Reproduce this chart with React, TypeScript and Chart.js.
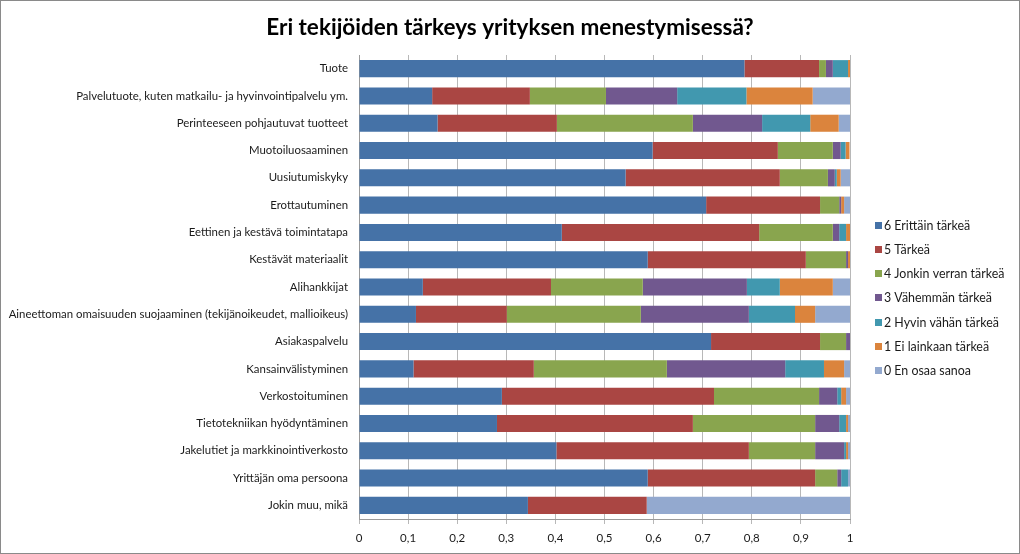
import React, { useEffect, useRef } from "react";
import { Chart, registerables } from "chart.js";

Chart.register(...registerables);

const TITLE = "Eri tekijöiden tärkeys yrityksen menestymisessä?";

const categories = [
  "Tuote",
  "Palvelutuote, kuten matkailu- ja hyvinvointipalvelu ym.",
  "Perinteeseen pohjautuvat tuotteet",
  "Muotoiluosaaminen",
  "Uusiutumiskyky",
  "Erottautuminen",
  "Eettinen ja kestävä toimintatapa",
  "Kestävät materiaalit",
  "Alihankkijat",
  "Aineettoman omaisuuden suojaaminen (tekijänoikeudet, mallioikeus)",
  "Asiakaspalvelu",
  "Kansainvälistyminen",
  "Verkostoituminen",
  "Tietotekniikan hyödyntäminen",
  "Jakelutiet ja markkinointiverkosto",
  "Yrittäjän oma persoona",
  "Jokin muu, mikä",
];

const seriesLabels = [
  "6 Erittäin tärkeä",
  "5 Tärkeä",
  "4 Jonkin verran tärkeä",
  "3 Vähemmän tärkeä",
  "2 Hyvin vähän tärkeä",
  "1 Ei lainkaan tärkeä",
  "0 En osaa sanoa",
];

const s6 = [0.785, 0.149, 0.16, 0.598, 0.543, 0.707, 0.413, 0.588, 0.13, 0.116, 0.717, 0.111, 0.291, 0.281, 0.402, 0.588, 0.344];
const s5 = [0.152, 0.199, 0.243, 0.255, 0.314, 0.232, 0.402, 0.322, 0.261, 0.185, 0.222, 0.245, 0.432, 0.399, 0.392, 0.341, 0.242];
const s4 = [0.014, 0.155, 0.277, 0.112, 0.098, 0.039, 0.15, 0.082, 0.187, 0.273, 0.053, 0.271, 0.214, 0.249, 0.135, 0.045, 0];
const s3 = [0.014, 0.145, 0.141, 0.016, 0.014, 0.004, 0.013, 0.004, 0.212, 0.22, 0.008, 0.241, 0.037, 0.049, 0.059, 0.008, 0];
const s2 = [0.031, 0.141, 0.098, 0.01, 0.004, 0, 0.014, 0, 0.067, 0.094, 0, 0.079, 0.008, 0.014, 0.004, 0.014, 0];
const s1 = [0.004, 0.135, 0.058, 0.008, 0.008, 0.006, 0.008, 0.004, 0.108, 0.041, 0, 0.041, 0.01, 0.004, 0.004, 0, 0];
const s0 = [0, 0.077, 0.023, 0, 0.019, 0.012, 0, 0, 0.035, 0.071, 0, 0.012, 0.008, 0.004, 0.004, 0.004, 0.414];

const seriesValues = [s6, s5, s4, s3, s2, s1, s0];
const colors = ["#4572A7", "#AA4643", "#89A54E", "#71588F", "#4198AF", "#DB843D", "#93A9CF"];

const FONT = "Lato, 'Noto Sans', sans-serif";

const titleLegendBorder = {
  id: "titleLegendBorder",
  afterDraw(chart: any) {
    const ctx = chart.ctx;
    ctx.save();
    // outer border
    ctx.strokeStyle = "#8a8a8a";
    ctx.lineWidth = 1;
    ctx.strokeRect(0.5, 0.5, chart.width - 1, chart.height - 1);
    // title (centred on the whole chart)
    ctx.font = `bold 22.5px ${FONT}`;
    ctx.fillStyle = "#000000";
    ctx.textAlign = "center";
    ctx.textBaseline = "middle";
    ctx.fillText(TITLE, chart.width / 2, 28);
    // legend
    const x0 = 875;
    const y0 = 225;
    const step = 24.3;
    ctx.font = `12.4px ${FONT}`;
    ctx.textBaseline = "middle";
    ctx.textAlign = "left";
    chart.data.datasets.forEach((ds: any, i: number) => {
      const cy = y0 + i * step;
      ctx.fillStyle = ds.backgroundColor;
      ctx.fillRect(x0, Math.round(cy - 3.5), 7, 7);
      ctx.fillStyle = "#1a1a1a";
      ctx.fillText(ds.label, x0 + 9, cy + 0.5);
    });
    ctx.restore();
  },
};

export default function App() {
  const ref = useRef<HTMLCanvasElement>(null);

  useEffect(() => {
    document.body.style.margin = "0";
    const canvas = ref.current!;
    const chart = new Chart(canvas, {
      type: "bar",
      data: {
        labels: categories,
        datasets: seriesLabels.map((label, i) => ({
          label,
          data: seriesValues[i],
          backgroundColor: colors[i],
          borderWidth: 0,
          categoryPercentage: 1,
          barPercentage: 0.625,
        })),
      },
      options: {
        indexAxis: "y",
        responsive: false,
        animation: false,
        devicePixelRatio: 1,
        layout: { padding: { left: 0, right: 170, top: 55, bottom: 0 } },
        plugins: {
          legend: { display: false },
          tooltip: { enabled: false },
          title: { display: false },
        },
        scales: {
          x: {
            stacked: true,
            min: 0,
            max: 1,
            ticks: {
              stepSize: 0.1,
              color: "#1a1a1a",
              font: { family: FONT, size: 11.5 },
              padding: 7,
              maxRotation: 0,
              callback: (v: any) => {
                const n = Math.round(Number(v) * 10) / 10;
                return String(n).replace(".", ",");
              },
            },
            grid: { color: "#b8b8b8", tickLength: 5, lineWidth: 1 },
            border: { display: true, color: "#9a9a9a" },
            afterFit: (scale: any) => {
              scale.height = 35;
            },
          },
          y: {
            stacked: true,
            ticks: {
              color: "#1a1a1a",
              font: { family: FONT, size: 11.4 },
              padding: 11,
              autoSkip: false,
            },
            grid: { display: false, drawTicks: false },
            border: { display: true, color: "#9a9a9a" },
            afterFit: (scale: any) => {
              scale.width = 359;
            },
          },
        },
      },
      plugins: [titleLegendBorder],
    } as any);
    return () => chart.destroy();
  }, []);

  return (
    <div style={{ position: "fixed", left: 0, top: 0 }}>
      <canvas ref={ref} width={1020} height={554} style={{ display: "block" }} />
    </div>
  );
}
